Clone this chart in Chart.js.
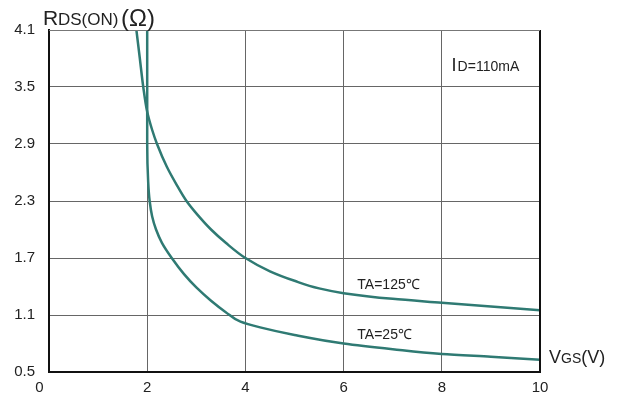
<!DOCTYPE html>
<html>
<head>
<meta charset="utf-8">
<script src="https://cdn.jsdelivr.net/npm/chart.js@4/dist/chart.umd.min.js"></script>
<style>
  html, body { margin: 0; padding: 0; background: #fff; }
  #wrap { width: 622px; height: 395px; position: relative; }
</style>
</head>
<body>
<div id="wrap"><canvas id="mycanvas"></canvas></div>
<script>
// Vgs (V) / Rds(on) (ohm)
var vgs125 = [1.78, 1.85, 1.92, 2.0, 2.1, 2.2, 2.4, 2.6, 2.8, 3.0, 3.3, 3.6, 4.0, 4.5, 5.0, 5.5, 6.0, 7.0, 8.0, 9.0, 10.0];
var rds125 = [4.1, 3.8, 3.5, 3.24, 3.05, 2.9, 2.66, 2.47, 2.3, 2.17, 2.0, 1.86, 1.7, 1.56, 1.46, 1.38, 1.33, 1.27, 1.23, 1.19, 1.15];

var vgs25 = [2.0, 2.0, 2.0, 2.02, 2.05, 2.1, 2.18, 2.3, 2.5, 2.75, 3.0, 3.3, 3.6, 3.9, 4.3, 5.0, 6.0, 7.0, 8.0, 9.0, 10.0];
var rds25 = [4.1, 3.5, 2.9, 2.5, 2.3, 2.14, 2.0, 1.86, 1.7, 1.53, 1.39, 1.25, 1.13, 1.03, 0.97, 0.89, 0.8, 0.74, 0.69, 0.66, 0.63];

var xTicks = [0, 2, 4, 6, 8, 10];
var yTicks = [0.5, 1.1, 1.7, 2.3, 2.9, 3.5, 4.1];

var lineColor = "#2f7a73";
var fam = "'Liberation Sans', Arial, sans-serif";

function pts(xs, ys) {
	var out = [];
	for (var i = 0; i < xs.length; i++) out.push({x: xs[i], y: ys[i]});
	return out;
}

// frame + texts
var extras = {
	id: "extras",
	afterDraw: function(chart) {
		var c = chart.ctx, a = chart.chartArea;
		var xs = chart.scales.x, ys = chart.scales.y;
		c.save();
		c.strokeStyle = "#111";
		c.lineWidth = 2;
		c.beginPath();
		c.moveTo(a.right, a.top);
		c.lineTo(a.right, a.bottom);
		c.stroke();
		c.strokeStyle = "#777";
		c.lineWidth = 1;
		c.beginPath();
		c.moveTo(a.left, a.top + 0.5);
		c.lineTo(a.right, a.top + 0.5);
		c.stroke();

		c.fillStyle = "#222";
		c.textBaseline = "alphabetic";
		c.textAlign = "left";
		// y title
		var yb = 25;
		c.font = "21px " + fam;
		c.fillText("R", 43, yb);
		c.font = "17px " + fam;
		c.fillText("DS(ON)", 58, yb);
		c.font = "24px " + fam;
		c.fillText("(\u03A9)", 121, yb + 1);

		// x title
		var x0 = 549;
		yb = 363;
		c.font = "18px " + fam;
		c.fillText("V", x0, yb);
		x0 += c.measureText("V").width;
		c.font = "14px " + fam;
		c.fillText("GS", x0, yb);
		x0 += c.measureText("GS").width;
		c.font = "18px " + fam;
		c.fillText("(V)", x0, yb);

		// Id label
		x0 = xs.getPixelForValue(8.2); yb = ys.getPixelForValue(3.67);
		c.font = "18px " + fam;
		c.fillText("I", x0, yb);
		x0 += c.measureText("I").width + 1;
		c.font = "14px " + fam;
		c.fillText("D=110mA", x0, yb);

		c.font = "14px " + fam;
		c.fillText("TA=125\u2103", xs.getPixelForValue(6.28), ys.getPixelForValue(1.37));
		c.fillText("TA=25\u2103", xs.getPixelForValue(6.28), ys.getPixelForValue(0.85));
		c.restore();
	}
};

var ctx = document.getElementById("mycanvas");
var chart = new Chart(ctx, {
	type: "scatter",
	data: {
		datasets: [{
			label: "TA=125",
			data: pts(vgs125, rds125),
			showLine: true,
			indexAxis: "y",
			cubicInterpolationMode: "monotone",
			borderColor: lineColor,
			borderWidth: 2.5,
			pointRadius: 0
		}, {
			label: "TA=25",
			data: pts(vgs25, rds25),
			showLine: true,
			indexAxis: "y",
			cubicInterpolationMode: "monotone",
			borderColor: lineColor,
			borderWidth: 2.5,
			pointRadius: 0
		}]
	},
	options: {
		responsive: true,
		maintainAspectRatio: false,
		animation: false,
		layout: { padding: { left: 0, top: 30, right: 82, bottom: 0 } },
		plugins: { legend: { display: false }, tooltip: { enabled: false } },
		scales: {
			x: {
				type: "linear",
				min: 0, max: 10,
				afterBuildTicks: function(axis) {
					axis.ticks = xTicks.map(function(v) { return {value: v}; });
				},
				afterFit: function(axis) { axis.height = 23; },
				grid: { color: "#666", lineWidth: 1, drawTicks: false },
				border: { display: true, color: "#111", width: 2 },
				ticks: {
					padding: 7,
					color: "#222",
					font: { family: fam, size: 15 },
					callback: function(v) { return v === 0 ? "0\u2002\u2002 " : String(v); }
				}
			},
			y: {
				type: "linear",
				min: 0.5, max: 4.1,
				afterBuildTicks: function(axis) {
					axis.ticks = yTicks.map(function(v) { return {value: v}; });
				},
				afterFit: function(axis) { axis.width = 49; },
				grid: { color: "#666", lineWidth: 1, drawTicks: false },
				border: { display: true, color: "#111", width: 2 },
				ticks: {
					padding: 14,
					color: "#222",
					font: { family: fam, size: 15 },
					callback: function(v) { return v.toFixed(1); }
				}
			}
		}
	},
	plugins: [extras]
});
</script>
</body>
</html>
